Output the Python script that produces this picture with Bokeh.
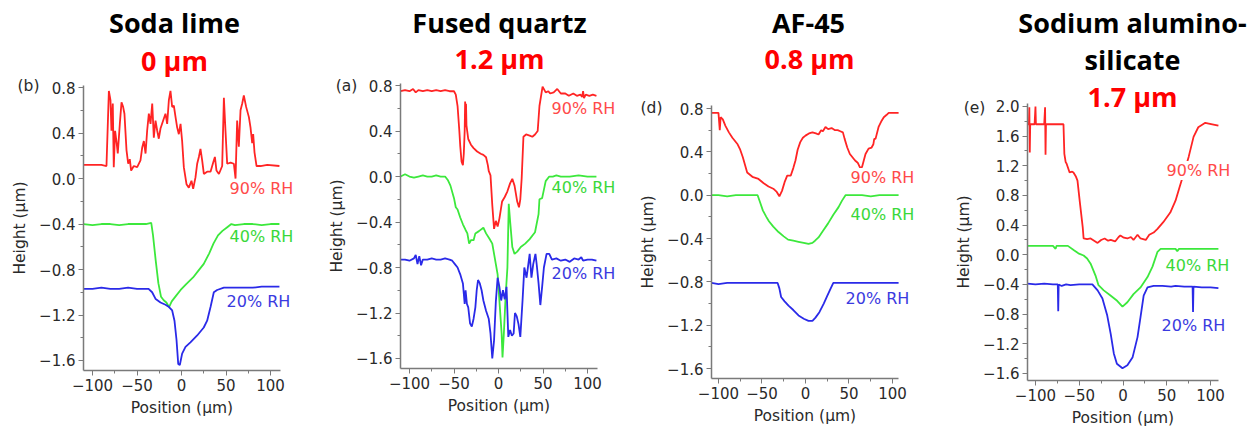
from bokeh.plotting import figure
from bokeh.layouts import row
from bokeh.models import Label, FixedTicker, LinearAxis
from bokeh.embed import file_html
from bokeh.resources import INLINE

# ---------------- data ----------------
titles = [["Soda lime"], ["Fused quartz"], ["AF-45"], ["Sodium alumino-", "silicate"]]
subtitles = ["0 \u03bcm", "1.2 \u03bcm", "0.8 \u03bcm", "1.7 \u03bcm"]
panel_tags = ["(b)", "(a)", "(d)", "(e)"]
rh_labels = ["90% RH", "40% RH", "20% RH"]

x_ticks = [-100, -50, 0, 50, 100]
x_tick_labels = ["\u2212100", "\u221250", "0", "50", "100"]
x_minor = [-75, -25, 25, 75]
y_ticks_a = [-1.6, -1.2, -0.8, -0.4, 0.0, 0.4, 0.8]
y_tick_labels_a = ["\u22121.6", "\u22121.2", "\u22120.8", "\u22120.4", "0.0", "0.4", "0.8"]
y_minor_a = [-1.4, -1.0, -0.6, -0.2, 0.2, 0.6]
y_ticks_b = [-1.6, -1.2, -0.8, -0.4, 0.0, 0.4, 0.8, 1.2, 1.6, 2.0]
y_tick_labels_b = ["\u22121.6", "\u22121.2", "\u22120.8", "\u22120.4", "0.0", "0.4", "0.8", "1.2", "1.6", "2.0"]
y_minor_b = [-1.4, -1.0, -0.6, -0.2, 0.2, 0.6, 1.0, 1.4, 1.8]

# Soda lime
soda_90_x = [-110, -100, -90, -84.3, -81.6, -79.8, -78.7, -77.2, -76.1, -74.6, -73.1, -71.6, -69.3, -67.4, -65.6, -64.1,
             -61.8, -59.9, -58.1, -56.6, -53.6, -49.8, -46.1, -44.2, -42.3, -40.4, -38.6, -36.7, -34.8, -32.9, -31.1,
             -29.2, -27.3, -25.5, -23.6, -20.6, -18.0, -16.1, -14.2, -12.4, -10.5, -8.6, -6.7, -4.9, -3.0, -1.1, 0.7,
             2.6, 5.6, 8.2, 11.2, 13.1, 15.7, 17.6, 19.5, 21.3, 23.2, 25.1, 28.8, 32.6, 35.6, 37.5, 39.3, 42.0, 45.7,
             47.6, 49.4, 51.3, 55.1, 58.8, 60.7, 62.5, 64.4, 66.3, 68.2, 70.0, 72.6, 75.7, 77.5, 79.4, 80.5, 82.0,
             84.3, 88.8, 96.3, 110]
soda_90_y = [0.12, 0.12, 0.12, 0.11, 0.77, 0.69, 0.42, 0.66, 0.10, 0.42, 0.33, 0.22, 0.48, 0.67, 0.63, 0.57,
             0.25, 0.13, 0.17, 0.07, 0.11, 0.10, 0.16, 0.27, 0.33, 0.22, 0.42, 0.57, 0.48, 0.66, 0.36,
             0.51, 0.42, 0.35, 0.44, 0.51, 0.57, 0.48, 0.69, 0.77, 0.63, 0.64, 0.54, 0.45, 0.39, 0.48, 0.33,
             0.10, -0.05, -0.08, -0.02, -0.09, 0.01, 0.13, 0.19, 0.26, 0.16, 0.04, 0.06, 0.06, 0.14, 0.19, 0.07, 0.04, 0.11,
             0.71, 0.42, 0.13, 0.14, 0.13, 0.00, 0.51, 0.28, 0.60, 0.66, 0.73, 0.63, 0.54, 0.45, 0.31, 0.39, 0.23,
             0.11, 0.11, 0.12, 0.11]
soda_40_x = [-110, -100, -90, -80, -70, -60, -50, -40, -34, -32, -29, -26, -23, -20, -17, -14, -11, -6, -1, 5, 13,
             19, 25, 31, 36, 41, 46, 51, 56, 60, 70, 80, 90, 100, 110]
soda_40_y = [-0.40, -0.41, -0.40, -0.40, -0.41, -0.40, -0.40, -0.40, -0.39, -0.50, -0.72, -0.92, -1.04, -1.07,
             -1.09, -1.13, -1.08, -1.03, -0.98, -0.93, -0.87, -0.81, -0.75, -0.66, -0.57, -0.50, -0.46, -0.43,
             -0.40, -0.41, -0.40, -0.40, -0.41, -0.40, -0.40]
soda_20_x = [-110, -100, -90, -80, -70, -60, -50, -40, -37, -33, -29, -23.6, -18, -14, -10.5, -7.9, -5.6, -3.7,
             -1.9, 0.7, 4.5, 10, 17.6, 25, 28.8, 32.6, 36.3, 40, 47.6, 60, 70, 80, 90, 100, 110]
soda_20_y = [-0.97, -0.97, -0.96, -0.97, -0.97, -0.96, -0.97, -0.97, -0.97, -1.00, -1.06, -1.09, -1.11, -1.13,
             -1.16, -1.25, -1.42, -1.63, -1.64, -1.54, -1.48, -1.44, -1.38, -1.31, -1.25, -1.13, -1.00, -0.98,
             -0.96, -0.96, -0.96, -0.96, -0.95, -0.95, -0.95]

# Fused quartz
fq_90_x = [-110, -105, -100, -96, -93, -90, -85, -80, -75, -70, -65, -60, -55, -50, -48, -46, -44, -43, -41.5, -40,
           -39, -38, -37.5, -37, -36.5, -36, -34, -31, -28, -24, -20, -17, -14, -12, -11, -9, -8, -7, -5, -3, -1,
           1, 4, 7, 10, 13, 15.5, 18, 21, 23, 24.5, 26, 28, 31, 35, 38, 41, 44, 46, 49.5, 53, 56, 58, 62, 66, 70,
           75, 79, 84, 88, 92, 94, 95, 96, 98, 102, 106, 110]
fq_90_y = [0.75, 0.76, 0.75, 0.77, 0.74, 0.76, 0.75, 0.76, 0.75, 0.76, 0.75, 0.76, 0.75, 0.75, 0.72, 0.62, 0.40,
           0.27, 0.13, 0.10, 0.20, 0.40, 0.66, 0.48, 0.64, 0.45, 0.33, 0.28, 0.25, 0.22, 0.20, 0.19, 0.17, 0.10,
           0.05, 0.01, -0.12, -0.25, -0.46, -0.39, -0.44, -0.37, -0.22, -0.18, -0.13, -0.06, -0.02, -0.08, -0.22,
           -0.27, -0.20, -0.02, 0.35, 0.37, 0.36, 0.35, 0.37, 0.40, 0.62, 0.79, 0.74, 0.75, 0.73, 0.74, 0.77,
           0.73, 0.73, 0.71, 0.73, 0.71, 0.72, 0.70, 0.75, 0.69, 0.72, 0.71, 0.72, 0.71]
fq_40_x = [-110, -105, -100, -95, -90, -85, -80, -75, -70, -65, -60, -57, -54, -50, -48, -46, -43, -40, -37, -35,
           -33, -31, -28, -26, -22, -17, -14, -10, -7, -3, -1, 1, 3.5, 4.5, 6, 8, 10, 11.5, 13, 15.5, 18, 21, 25,
           30, 35, 41, 45, 46, 49, 53, 57, 61, 65, 70, 80, 90, 100, 110]
fq_40_y = [0.00, 0.02, 0.00, -0.01, 0.00, 0.01, 0.00, 0.00, 0.01, 0.00, 0.00, -0.03, -0.08, -0.19, -0.27, -0.29,
           -0.36, -0.42, -0.47, -0.50, -0.59, -0.56, -0.56, -0.50, -0.48, -0.45, -0.50, -0.55, -0.59, -0.77, -0.86,
           -1.09, -1.38, -1.59, -1.38, -1.05, -0.80, -0.24, -0.39, -0.62, -0.68, -0.66, -0.62, -0.59, -0.55,
           -0.49, -0.33, -0.20, -0.19, -0.04, 0.00, 0.00, 0.01, 0.00, 0.00, 0.01, 0.00, 0.00]
fq_20_x = [-110, -105, -100, -95, -93, -91, -89, -87, -85, -80, -75, -70, -65, -60, -55, -52, -49, -46, -43, -40,
           -38, -37, -35.5, -34, -32, -30, -28, -26, -24.5, -23, -21, -19, -17, -14, -11, -9, -7, -5, -3, -1, 1,
           3, 5, 7, 9, 11, 13, 15, 17, 18.5, 20.5, 22.5, 24.5, 27, 29, 31.5, 33, 35, 37, 39, 41.5, 43, 45, 47, 49,
           51, 54, 57, 60, 65, 70, 75, 80, 85, 90, 93, 95, 100, 105, 110]
fq_20_y = [-0.73, -0.73, -0.74, -0.72, -0.69, -0.77, -0.70, -0.78, -0.73, -0.73, -0.72, -0.73, -0.73, -0.72, -0.73,
           -0.74, -0.77, -0.80, -0.86, -0.94, -1.12, -1.00, -1.12, -1.15, -1.29, -1.32, -1.25, -1.15, -1.00, -0.91,
           -0.94, -1.00, -1.09, -1.18, -1.25, -1.38, -1.60, -1.44, -1.10, -0.89, -0.97, -1.09, -1.00, -1.08, -0.97,
           -1.41, -1.35, -1.40, -1.38, -1.20, -1.23, -1.30, -1.41, -1.09, -0.80, -0.89, -0.80, -0.68, -0.89, -0.77,
           -0.68, -0.78, -0.94, -1.13, -0.97, -0.80, -0.68, -0.68, -0.73, -0.72, -0.74, -0.73, -0.75, -0.72, -0.73,
           -0.71, -0.74, -0.73, -0.73, -0.74]

# AF-45
af_90_x = [-108, -102, -100, -98.5, -97.5, -95, -92, -88, -84, -78, -75, -72, -67, -61, -54, -48, -42.5, -37, -33,
           -30, -27, -24, -21, -17, -14, -11.5, -9, -6, -3, 0, 4, 8, 12, 15, 18, 20, 23, 26, 30, 34, 37, 40, 43, 45,
           48, 51, 54, 57, 60, 63, 65, 67, 69, 72.5, 76, 78, 79, 80.5, 84, 87, 90, 93, 95.6, 100, 107]
af_90_y = [0.76, 0.76, 0.76, 0.60, 0.72, 0.70, 0.64, 0.58, 0.53, 0.47, 0.42, 0.35, 0.21, 0.17, 0.15, 0.11, 0.08,
           0.06, 0.03, -0.01, 0.04, 0.12, 0.18, 0.18, 0.25, 0.32, 0.42, 0.49, 0.53, 0.55, 0.57, 0.58, 0.57, 0.56,
           0.60, 0.59, 0.63, 0.61, 0.62, 0.60, 0.60, 0.59, 0.58, 0.52, 0.44, 0.38, 0.35, 0.32, 0.30, 0.25, 0.26,
           0.32, 0.38, 0.43, 0.44, 0.47, 0.52, 0.52, 0.63, 0.68, 0.72, 0.74, 0.76, 0.76, 0.76]
af_40_x = [-108, -100, -90, -80, -70, -60, -55, -52, -49, -45, -42, -37, -31, -25, -20, -14, -8, -2, 3.5, 8, 11,
           15, 20, 26, 32, 38, 42, 46, 55, 65, 75, 85, 95, 107]
af_40_y = [0.00, 0.00, -0.01, 0.00, 0.00, 0.00, 0.00, -0.07, -0.14, -0.20, -0.24, -0.29, -0.34, -0.38, -0.41,
           -0.42, -0.43, -0.44, -0.45, -0.44, -0.42, -0.39, -0.33, -0.26, -0.18, -0.11, -0.05, 0.00, 0.00, 0.00,
           -0.01, 0.00, 0.00, 0.00]
af_20_x = [-108, -100, -90, -80, -70, -60, -50, -40, -32, -30, -28, -24, -19.5, -14, -8, -2, 3.5, 8, 11.5, 16, 21,
           25, 29, 32, 40, 50, 60, 70, 80, 90, 100, 107]
af_20_y = [-0.81, -0.82, -0.81, -0.81, -0.81, -0.81, -0.81, -0.81, -0.81, -0.86, -0.94, -0.98, -1.02, -1.06,
           -1.11, -1.14, -1.16, -1.16, -1.13, -1.08, -1.00, -0.93, -0.86, -0.81, -0.81, -0.81, -0.81, -0.81,
           -0.81, -0.81, -0.81, -0.81]

# Sodium aluminosilicate
sa_90_x = [-109, -107.5, -107, -106.5, -106, -101, -100, -99.5, -90, -89, -88.5, -88, -80, -75, -70, -68, -67,
           -65.5, -64.5, -61, -58, -56.6, -54, -52, -49.5, -46, -45, -41, -37, -33, -29, -25, -21, -17, -14, -9,
           -5, -3, 1, 5, 9, 12, 16.6, 20, 23, 26, 30, 35, 39.4, 46, 54, 60, 64.6, 70, 75, 80.6, 86, 94, 102, 109]
sa_90_y = [1.76, 1.76, 1.99, 1.38, 1.76, 1.76, 2.00, 1.76, 1.76, 1.99, 1.35, 1.76, 1.76, 1.76, 1.76, 1.76, 1.36,
           1.25, 1.23, 1.11, 1.12, 1.11, 1.06, 1.00, 0.73, 0.37, 0.22, 0.21, 0.22, 0.19, 0.16, 0.20, 0.22, 0.19,
           0.20, 0.18, 0.24, 0.26, 0.23, 0.22, 0.24, 0.20, 0.27, 0.22, 0.21, 0.20, 0.27, 0.30, 0.35, 0.44, 0.57,
           0.73, 0.91, 1.12, 1.32, 1.59, 1.72, 1.78, 1.76, 1.74]
sa_40_x = [-109, -100, -90, -80, -77, -76, -70, -63, -56, -51, -45, -41, -37, -31.4, -28, -22, -14.3, -6.7, -0.6,
           5, 12, 20, 28, 33.7, 39.4, 43, 50, 60, 62, 64, 70, 80, 90, 100, 109]
sa_40_y = [0.12, 0.12, 0.12, 0.12, 0.08, 0.12, 0.12, 0.12, 0.06, 0.02, -0.01, -0.05, -0.12, -0.28, -0.41, -0.48,
           -0.55, -0.62, -0.70, -0.64, -0.53, -0.44, -0.30, -0.16, 0.04, 0.08, 0.08, 0.08, 0.05, 0.08, 0.08, 0.08,
           0.08, 0.08, 0.08]
sa_20_x = [-109, -100, -90, -80, -74.5, -74, -73.5, -70, -65, -60, -50, -40, -35, -29, -23.5, -18, -14, -10.5, -7,
           -0.6, 5, 11, 16.6, 20, 23.6, 28, 35, 45, 55, 60, 70, 79.5, 80, 80.5, 90, 100, 109]
sa_20_y = [-0.39, -0.40, -0.39, -0.40, -0.40, -0.76, -0.40, -0.42, -0.40, -0.41, -0.40, -0.40, -0.40, -0.48,
           -0.59, -0.82, -1.07, -1.33, -1.47, -1.53, -1.49, -1.38, -1.11, -0.84, -0.55, -0.44, -0.42, -0.42,
           -0.43, -0.42, -0.43, -0.43, -0.77, -0.43, -0.44, -0.44, -0.45]

# ---------------- styling / layout ----------------
LINE_COLORS = ["#ff2424", "#3ce83c", "#2a2ae8"]
TEXT_COLORS = ["#ff4a4a", "#3ad83a", "#3a3ae0"]
AX = "#7a7a7a"
TXT = "#2a2a2a"
FONT = "DejaVu Sans"
H = 429

# page geometry of each panel: fig left, fig width, plot box L, R, T, B (page px)
geoms = [
    (0, 315, 83, 280, 85, 370),
    (315, 310, 400, 597, 83, 368),
    (625, 305, 711, 898, 105, 378),
    (930, 326, 1027, 1218, 103, 380),
]
xranges = [(-110.1, 111.2), (-110.1, 111.2), (-108.0, 106.9), (-109.1, 109.1)]
yranges = [(-1.688, 0.818), (-1.688, 0.818), (-1.692, 0.828), (-1.695, 2.04)]

series = [
    [(soda_90_x, soda_90_y), (soda_40_x, soda_40_y), (soda_20_x, soda_20_y)],
    [(fq_90_x, fq_90_y), (fq_40_x, fq_40_y), (fq_20_x, fq_20_y)],
    [(af_90_x, af_90_y), (af_40_x, af_40_y), (af_20_x, af_20_y)],
    [(sa_90_x, sa_90_y), (sa_40_x, sa_40_y), (sa_20_x, sa_20_y)],
]
y_tick_sets = [(y_ticks_a, y_tick_labels_a, y_minor_a)] * 3 + [(y_ticks_b, y_tick_labels_b, y_minor_b)]

# page-pixel positions of texts
title_pos = [(174, [22]), (499, [22]), (808, [22]), (1132, [22, 59])]
subtitle_pos = [(174, 60), (499, 58), (809, 58), (1132, 96)]
tag_pos = [(28, 85), (346, 85), (651, 107), (974, 107)]
rh_pos = [
    [(261, 188), (261, 236), (258, 301)],
    [(583, 108), (583, 187), (583, 273)],
    [(882, 177), (882, 214), (877, 298)],
    [(1198, 170), (1197, 265), (1193, 325)],
]

figs = []
for i in range(4):
    fx, fw, L, R, T, B = geoms[i]
    x0, x1 = xranges[i]
    y0, y1 = yranges[i]
    sx_ = (x1 - x0) / (R - L)
    sy_ = (y1 - y0) / (B - T)
    # the frame covers the whole figure; the plot box is drawn with bounded axes
    fx0 = x0 - (L - fx) * sx_
    fx1 = x1 + (fx + fw - R) * sx_
    fy1 = y1 + T * sy_

    def to_data(px, py, fx=fx, fx0=fx0, fy1=fy1, sx_=sx_, sy_=sy_):
        return (fx0 + (px - fx) * sx_, fy1 - py * sy_)

    p = figure(width=fw, height=H, x_range=(fx0, fx1), y_range=(fy1 - H * sy_, fy1),
               output_backend="svg", toolbar_location=None,
               x_axis_location=None, y_axis_location=None,
               min_border=0)
    p.title.visible = False
    p.outline_line_color = None
    p.grid.visible = False
    p.background_fill_color = "white"
    p.border_fill_color = "white"

    for (xs, ys), c in zip(series[i], LINE_COLORS):
        p.line(xs, ys, line_color=c, line_width=1.8)

    yt, ytl, ym = y_tick_sets[i]
    yax = LinearAxis(ticker=FixedTicker(ticks=yt, minor_ticks=ym), fixed_location=x0, bounds=(y0, y1),
                     major_label_overrides={v: s for v, s in zip(yt, ytl)},
                     axis_label="Height (\u03bcm)")
    xax = LinearAxis(ticker=FixedTicker(ticks=x_ticks, minor_ticks=x_minor), fixed_location=y0, bounds=(x0, x1),
                     major_label_overrides={v: s for v, s in zip(x_ticks, x_tick_labels)},
                     axis_label="Position (\u03bcm)")
    for ax in (xax, yax):
        ax.axis_line_color = AX
        ax.axis_line_width = 1.5
        ax.major_tick_line_color = AX
        ax.minor_tick_line_color = AX
        ax.major_tick_out = 5
        ax.major_tick_in = 0
        ax.minor_tick_out = 3
        ax.minor_tick_in = 0
        ax.major_label_text_font = FONT
        ax.major_label_text_font_size = "15px"
        ax.major_label_text_color = TXT
        ax.axis_label_text_font = FONT
        ax.axis_label_text_font_size = "15.5px"
        ax.axis_label_text_font_style = "normal"
        ax.axis_label_text_color = TXT
        ax.major_label_standoff = 3
    yax.axis_label_standoff = 7
    xax.axis_label_standoff = 5
    p.add_layout(yax, "left")
    p.add_layout(xax, "below")

    # titles
    tx, tys = title_pos[i]
    for line, ty in zip(titles[i], tys):
        dx, dy = to_data(tx, ty)
        p.add_layout(Label(x=dx, y=dy, text=line, text_font="Open Sans", text_font_style="bold",
                           text_font_size="27px", text_color="black", text_align="center",
                           text_baseline="middle"))
    sx, sy = subtitle_pos[i]
    dx, dy = to_data(sx, sy)
    p.add_layout(Label(x=dx, y=dy, text=subtitles[i], text_font="Open Sans", text_font_style="bold",
                       text_font_size="27px", text_color="#ff0000", text_align="center",
                       text_baseline="middle"))
    gx, gy = tag_pos[i]
    dx, dy = to_data(gx, gy)
    p.add_layout(Label(x=dx, y=dy, text=panel_tags[i], text_font=FONT, text_font_size="15.5px",
                       text_color=TXT, text_align="center", text_baseline="middle"))
    for (lx, ly), lab, c in zip(rh_pos[i], rh_labels, TEXT_COLORS):
        dx, dy = to_data(lx, ly)
        p.add_layout(Label(x=dx, y=dy, text=lab, text_font=FONT, text_font_size="16px",
                           text_color=c, text_align="center", text_baseline="middle",
                           background_fill_color="white"))
    figs.append(p)

layout = row(*figs, spacing=0)
open("out.html", "w").write(file_html(layout, INLINE))
